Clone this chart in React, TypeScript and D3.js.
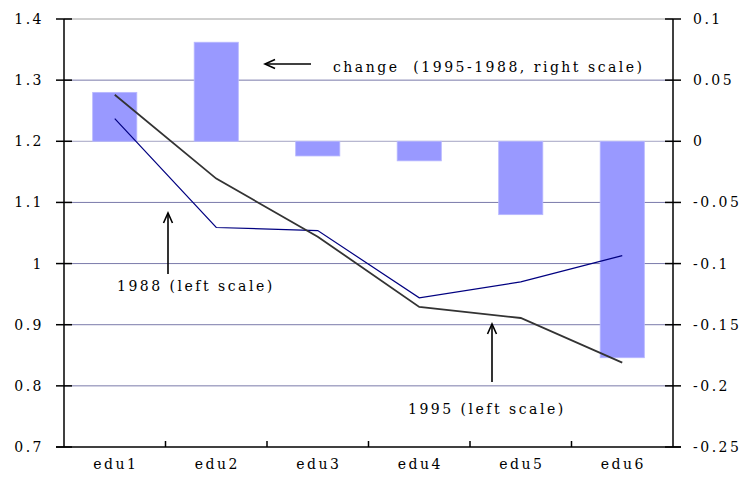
import React from "react";
import * as d3 from "d3";

const categories = ["edu1", "edu2", "edu3", "edu4", "edu5", "edu6"];
const change = [0.04, 0.081, -0.012, -0.016, -0.06, -0.177];
const y1988 = [1.237, 1.059, 1.054, 0.944, 0.97, 1.013];
const y1995 = [1.276, 1.139, 1.044, 0.929, 0.911, 0.838];
const leftTicks = [0.7, 0.8, 0.9, 1.0, 1.1, 1.2, 1.3, 1.4];
const rightTicks = [-0.25, -0.2, -0.15, -0.1, -0.05, 0, 0.05, 0.1];

const W = 742;
const H = 489;
const left = 64;
const right = 673;
const top = 19;
const bottom = 447;

const font = "'DejaVu Serif', serif";

const fmt = (v: number) => String(+v.toFixed(2));

const Arrow = ({ x1, y1, x2, y2 }: { x1: number; y1: number; x2: number; y2: number }) => {
  // arrow head sits at (x2, y2)
  const a = Math.atan2(y2 - y1, x2 - x1);
  const len = 11;
  const spread = 0.42;
  const p1 = [x2 - len * Math.cos(a - spread), y2 - len * Math.sin(a - spread)];
  const p2 = [x2 - len * Math.cos(a + spread), y2 - len * Math.sin(a + spread)];
  return (
    <g stroke="#000" strokeWidth={1.6} fill="none">
      <line x1={x1} y1={y1} x2={x2} y2={y2} />
      <polyline points={`${p1[0]},${p1[1]} ${x2},${y2} ${p2[0]},${p2[1]}`} />
    </g>
  );
};

export default function App() {
  const x = d3
    .scaleBand<string>()
    .domain(categories)
    .range([left, right])
    .paddingInner(0.565)
    .paddingOuter(0.2825);
  const step = (right - left) / categories.length;
  const yL = d3.scaleLinear().domain([0.7, 1.4]).range([bottom, top]);
  const yR = d3.scaleLinear().domain([-0.25, 0.1]).range([bottom, top]);

  const line = d3
    .line<number>()
    .x((_, i) => (x(categories[i]) as number) + x.bandwidth() / 2)
    .y((d) => yL(d));

  const tp = {
    fontFamily: font,
    fontSize: 14,
    letterSpacing: 2.5,
    fill: "#000",
  };

  return (
    <div style={{ position: "fixed", left: 0, top: 0, background: "#fff" }}>
      <svg width={W} height={H} style={{ display: "block" }}>
        <rect width={W} height={H} fill="#fff" />

        {/* gridlines */}
        {leftTicks.slice(1).map((t) => (
          <line
            key={t}
            x1={left}
            x2={right}
            y1={yL(t)}
            y2={yL(t)}
            stroke={t === 1.4 ? "#a0a0a0" : t === 1.2 ? "#a4a4c4" : "#7a7aaa"}
            strokeWidth={1}
          />
        ))}

        {/* bars */}
        {categories.map((c, i) => {
          const v = change[i];
          const y0 = yR(0);
          const y1 = yR(v);
          return (
            <rect
              key={c}
              x={x(c)}
              width={x.bandwidth()}
              y={Math.min(y0, y1)}
              height={Math.abs(y1 - y0)}
              fill="#9999ff"
              stroke="#b8b8ff"
              strokeWidth={0.8}
            />
          );
        })}

        {/* lines */}
        <path d={line(y1988) || ""} fill="none" stroke="#000080" strokeWidth={1.2} />
        <path d={line(y1995) || ""} fill="none" stroke="#333333" strokeWidth={1.8} />

        {/* axes */}
        <g stroke="#000" strokeWidth={1.5}>
          <line x1={left} x2={left} y1={top} y2={bottom} />
          <line x1={right} x2={right} y1={top} y2={bottom} />
          <line x1={left - 8} x2={right + 8} y1={bottom} y2={bottom} />
          {leftTicks.map((t) => (
            <line key={"l" + t} x1={left - 8} x2={left + 8} y1={yL(t)} y2={yL(t)} />
          ))}
          {rightTicks.map((t) => (
            <line key={"r" + t} x1={right - 8} x2={right + 8} y1={yR(t)} y2={yR(t)} />
          ))}
          {categories.slice(1).map((c, i) => (
            <line
              key={"c" + c}
              x1={left + step * (i + 1)}
              x2={left + step * (i + 1)}
              y1={bottom}
              y2={bottom - 6}
            />
          ))}
        </g>

        {/* tick labels */}
        {leftTicks.map((t) => (
          <text key={"lt" + t} x={44} y={yL(t) + 5} textAnchor="end" {...tp}>
            {fmt(t)}
          </text>
        ))}
        {rightTicks.map((t) => (
          <text key={"rt" + t} x={693} y={yR(t) + 5} {...tp}>
            {fmt(t)}
          </text>
        ))}
        {categories.map((c) => (
          <text
            key={"ct" + c}
            x={(x(c) as number) + x.bandwidth() / 2 + 1}
            y={469}
            textAnchor="middle"
            {...tp}
          >
            {c}
          </text>
        ))}

        {/* annotations */}
        <Arrow x1={311} y1={64} x2={265} y2={64} />
        <text x={333} y={72} {...tp} xmlSpace="preserve">
          {"change  (1995-1988, right scale)"}
        </text>
        <Arrow x1={168} y1={274} x2={168} y2={213} />
        <text x={117} y={291} {...tp}>
          1988 (left scale)
        </text>
        <Arrow x1={492} y1={382} x2={492} y2={324} />
        <text x={408} y={414} {...tp}>
          1995 (left scale)
        </text>
      </svg>
    </div>
  );
}
